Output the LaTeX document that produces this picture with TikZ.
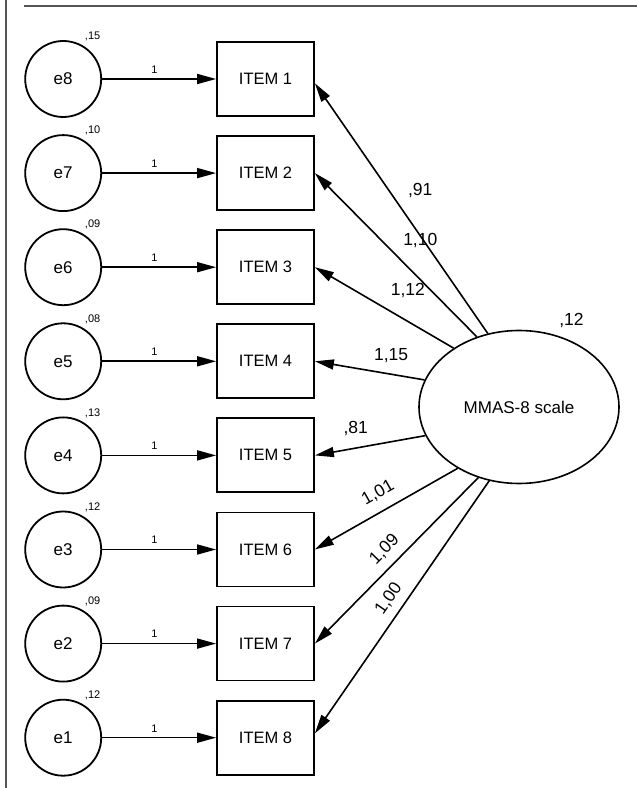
\documentclass[tikz,border=0pt]{standalone}
\usepackage{fontspec}
\setmainfont{Liberation Sans}
\usepackage{tikz}
\usetikzlibrary{arrows.meta, positioning, shapes.geometric}
\definecolor{framegray}{HTML}{555555}
\tikzset{
    itembox/.style={rectangle, draw=black, line width=1.8pt, minimum width=97pt, minimum height=74pt, font=\fontsize{16.5}{19}\selectfont},
    errnode/.style={circle, draw=black, line width=1.8pt, minimum size=76pt, inner sep=0pt, font=\fontsize{17}{20}\selectfont, label distance=4pt},
    latent/.style={ellipse, draw=black, line width=1.6pt, minimum width=200pt, minimum height=153pt, font=\fontsize{17}{20}\selectfont},
    varlbl/.style={font=\fontsize{11}{13}\selectfont},
    onelbl/.style={font=\fontsize{11}{13}\selectfont, above=1.5pt, pos=.46},
    loading/.style={font=\fontsize{17.5}{20}\selectfont},
    arrow/.style={-{Triangle[length=19pt, width=10pt]}, line width=1.6pt, draw=black},
    frameline/.style={line width=1.3pt, draw=framegray}
}
\begin{document}
\begin{tikzpicture}[x=1pt, y=1pt, node distance=18.3pt]
        \useasboundingbox (0,0) rectangle (637,788);
        \draw[frameline] (24,782) -- (637,782);
        \draw[frameline] (6,0) -- (6,788);
        % observed items
        \node[itembox] (item1) at (265.5,709) {ITEM 1};
        \node[itembox, below=of item1] (item2) {ITEM 2};
        \node[itembox, below=of item2] (item3) {ITEM 3};
        \node[itembox, below=of item3] (item4) {ITEM 4};
        \node[itembox, below=of item4] (item5) {ITEM 5};
        \node[itembox, below=of item5] (item6) {ITEM 6};
        \node[itembox, below=of item6] (item7) {ITEM 7};
        \node[itembox, below=of item7] (item8) {ITEM 8};
        % error terms
        \node[errnode, left=114pt of item1, label={[varlbl]62:{,15}}] (e8) {e8};
        \node[errnode, left=114pt of item2, label={[varlbl]62:{,10}}] (e7) {e7};
        \node[errnode, left=114pt of item3, label={[varlbl]62:{,09}}] (e6) {e6};
        \node[errnode, left=114pt of item4, label={[varlbl]62:{,08}}] (e5) {e5};
        \node[errnode, left=114pt of item5, label={[varlbl]62:{,13}}] (e4) {e4};
        \node[errnode, left=114pt of item6, label={[varlbl]62:{,12}}] (e3) {e3};
        \node[errnode, left=114pt of item7, label={[varlbl]62:{,09}}] (e2) {e2};
        \node[errnode, left=114pt of item8, label={[varlbl]62:{,12}}] (e1) {e1};
        % latent factor
        \node[latent, label={[loading, label distance=6pt, xshift=-7pt]60:{,12}}] (mmas) at (519,381) {MMAS-8 scale};
        \draw[arrow] (e8) -- node[onelbl] {1} (item1);
        \draw[arrow] (e7) -- node[onelbl] {1} (item2);
        \draw[arrow] (e6) -- node[onelbl] {1} (item3);
        \draw[arrow] (e5) -- node[onelbl] {1} (item4);
        \draw[arrow] (e4) -- node[onelbl] {1} (item5);
        \draw[arrow] (e3) -- node[onelbl] {1} (item6);
        \draw[arrow] (e2) -- node[onelbl] {1} (item7);
        \draw[arrow] (e1) -- node[onelbl] {1} (item8);
        % loadings
        \draw[arrow] (mmas.113) -- node[loading, pos=.57, xshift=31pt] {,91} (item1.-5);
        \draw[arrow] (mmas.121) -- node[loading, pos=.59, xshift=39pt] {1,10} (item2.east);
        \draw[arrow] (mmas.138) -- node[loading, pos=.33, yshift=31pt] {1,12} (item3.east);
        \draw[arrow] (mmas.164) -- node[loading, pos=.305, yshift=19pt] {1,15} (item4.east);
        \draw[arrow] (mmas.197) -- node[loading, pos=.63, yshift=20pt] {,81} (item5.east);
        \draw[arrow] (mmas.225) -- node[loading, sloped, above=7pt, pos=.494] {1,01} (item6.east);
        \draw[arrow] (mmas.240) -- node[loading, sloped, above=5pt, pos=.503] {1,09} (item7.east);
        \draw[arrow] (mmas.248) -- node[loading, sloped, above=4.5pt, pos=.502] {1,00} (item8.5);
    \end{tikzpicture}
\end{document}
